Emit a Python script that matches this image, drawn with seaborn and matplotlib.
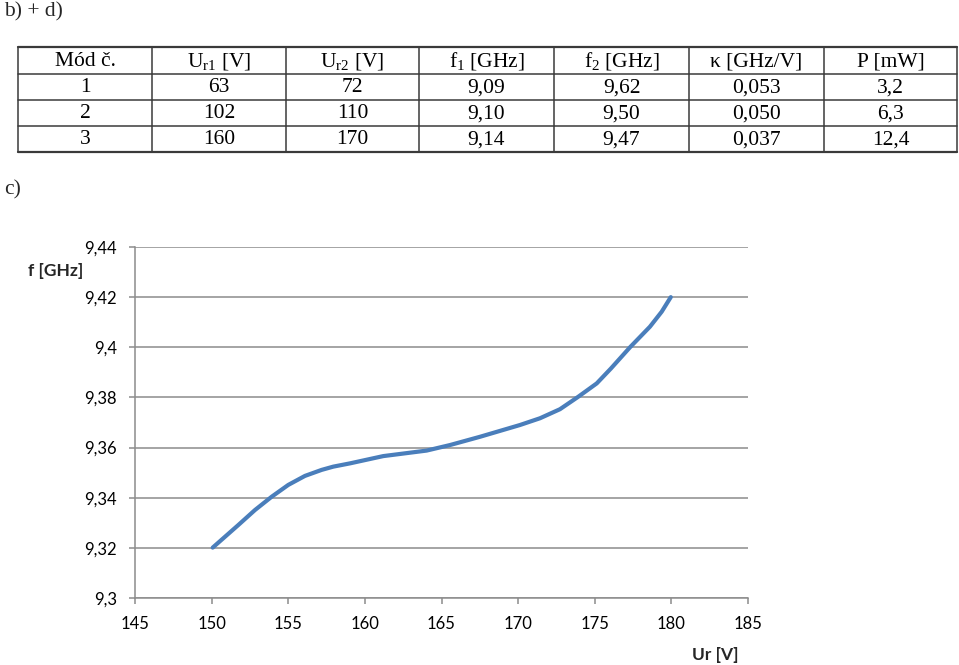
import matplotlib
matplotlib.use("Agg")
import matplotlib.pyplot as plt
from matplotlib.lines import Line2D
import seaborn as sns
import pandas as pd

# ---- table data ----
header = ["Mód č.", r"U$_{\mathrm{r1}}$ [V]", r"U$_{\mathrm{r2}}$ [V]", r"f$_{\mathrm{1}}$ [GHz]",
          r"f$_{\mathrm{2}}$ [GHz]", "κ [GHz/V]", "P [mW]"]
mode = ["1", "2", "3"]
ur1 = ["63", "102", "160"]
ur2 = ["72", "110", "170"]
f1 = ["9,09", "9,10", "9,14"]
f2 = ["9,62", "9,50", "9,47"]
kappa = ["0,053", "0,050", "0,037"]
power = ["3,2", "6,3", "12,4"]

# ---- chart data ----
ur = [150.07, 151.74, 152.83, 153.92, 155.0, 156.09, 157.18, 157.94, 159.03,
      161.2, 164.03, 165.55, 167.51, 170.12, 171.43, 172.73, 173.93, 175.13,
      176.05, 177.3, 178.6, 179.37, 179.96]
freq = [9.3201, 9.3291, 9.3351, 9.3404, 9.3451, 9.3487, 9.3511, 9.3524, 9.3537,
        9.3566, 9.3588, 9.3610, 9.3643, 9.3690, 9.3717, 9.3753, 9.3803, 9.3856,
        9.3915, 9.4000, 9.4082, 9.4142, 9.4200]
xticks = [145, 150, 155, 160, 165, 170, 175, 180, 185]
yticks = [9.30, 9.32, 9.34, 9.36, 9.38, 9.40, 9.42, 9.44]
ytick_labels = ["9,3", "9,32", "9,34", "9,36", "9,38", "9,4", "9,42", "9,44"]

sns.set_theme(style="white")
plt.rcParams["mathtext.fontset"] = "custom"
plt.rcParams["mathtext.rm"] = "Liberation Serif"
plt.rcParams["mathtext.it"] = "Liberation Serif:italic"

W, H = 959, 665
fig = plt.figure(figsize=(W / 100, H / 100), dpi=100)
fig.patch.set_facecolor("white")

def fx(px):
    return px / W

def fy(py):
    return 1 - py / H

serif = "Liberation Serif"
fig.text(fx(4), fy(12), "b) + d)", family=serif, fontsize=15.5, va="center", ha="left")
fig.text(fx(4), fy(190), "c)", family=serif, fontsize=15.5, va="center", ha="left")

# ---- table ----
col_edges = [18, 152, 286, 419, 554, 689, 824, 957]
row_edges = [47, 74, 100, 126, 152]
border = "#3a3a3a"
for xe in col_edges:
    fig.add_artist(Line2D([fx(xe), fx(xe)], [fy(row_edges[0]), fy(row_edges[-1])],
                          color=border, lw=1.1, transform=fig.transFigure))
for ye in row_edges:
    lw = 1.6 if ye in (row_edges[0], row_edges[-1]) else 1.1
    fig.add_artist(Line2D([fx(col_edges[0]), fx(col_edges[-1])], [fy(ye), fy(ye)],
                          color=border, lw=lw, transform=fig.transFigure))

rows = [header] + [list(r) for r in zip(mode, ur1, ur2, f1, f2, kappa, power)]
for ri, row in enumerate(rows):
    yc = (row_edges[ri] + row_edges[ri + 1]) / 2 + 1
    for ci, txt in enumerate(row):
        xc = (col_edges[ci] + col_edges[ci + 1]) / 2
        fig.text(fx(xc), fy(yc), txt, family=serif, fontsize=15.5,
                 ha="center", va="center", color="black")

# ---- chart ----
ax = fig.add_axes([fx(135), fy(598), fx(748) - fx(135), fy(247) - fy(598)])
df = pd.DataFrame({"Ur": ur, "f": freq})
sns.lineplot(data=df, x="Ur", y="f", ax=ax, color="#4A7EBB", lw=3.0,
             sort=False, estimator=None, solid_capstyle="round",
             solid_joinstyle="round")

ax.set_xlim(145, 185)
ax.set_ylim(9.30, 9.44)
ax.set_xticks(xticks)
ax.set_xticklabels([str(t) for t in xticks])
ax.set_yticks(yticks)
ax.set_yticklabels(ytick_labels)
ax.set_xlabel("")
ax.set_ylabel("")
ax.yaxis.grid(True, color="#8c8c8c", lw=1.1)
ax.xaxis.grid(False)
ax.set_axisbelow(True)
for s in ["top", "right"]:
    ax.spines[s].set_visible(False)
for s in ["left", "bottom"]:
    ax.spines[s].set_color("#8c8c8c")
    ax.spines[s].set_linewidth(1.1)
tickfont = "Lato"
ax.tick_params(axis="x", which="major", direction="out", length=4, width=1.1,
               color="#8c8c8c", pad=9, labelsize=12, bottom=True)
ax.tick_params(axis="y", which="major", direction="out", length=4, width=1.1,
               color="#8c8c8c", pad=9, labelsize=12, left=True)
for lab in ax.get_xticklabels() + ax.get_yticklabels():
    lab.set_family(tickfont)
    lab.set_color("black")

fig.text(fx(56), fy(271), "f [GHz]", family=tickfont, fontsize=12.5, fontweight="bold",
         ha="center", va="center")
fig.text(fx(715), fy(655), "Ur [V]", family=tickfont, fontsize=12.5, fontweight="bold",
         ha="center", va="center")

fig.savefig("out.png", dpi=100, facecolor="white")
